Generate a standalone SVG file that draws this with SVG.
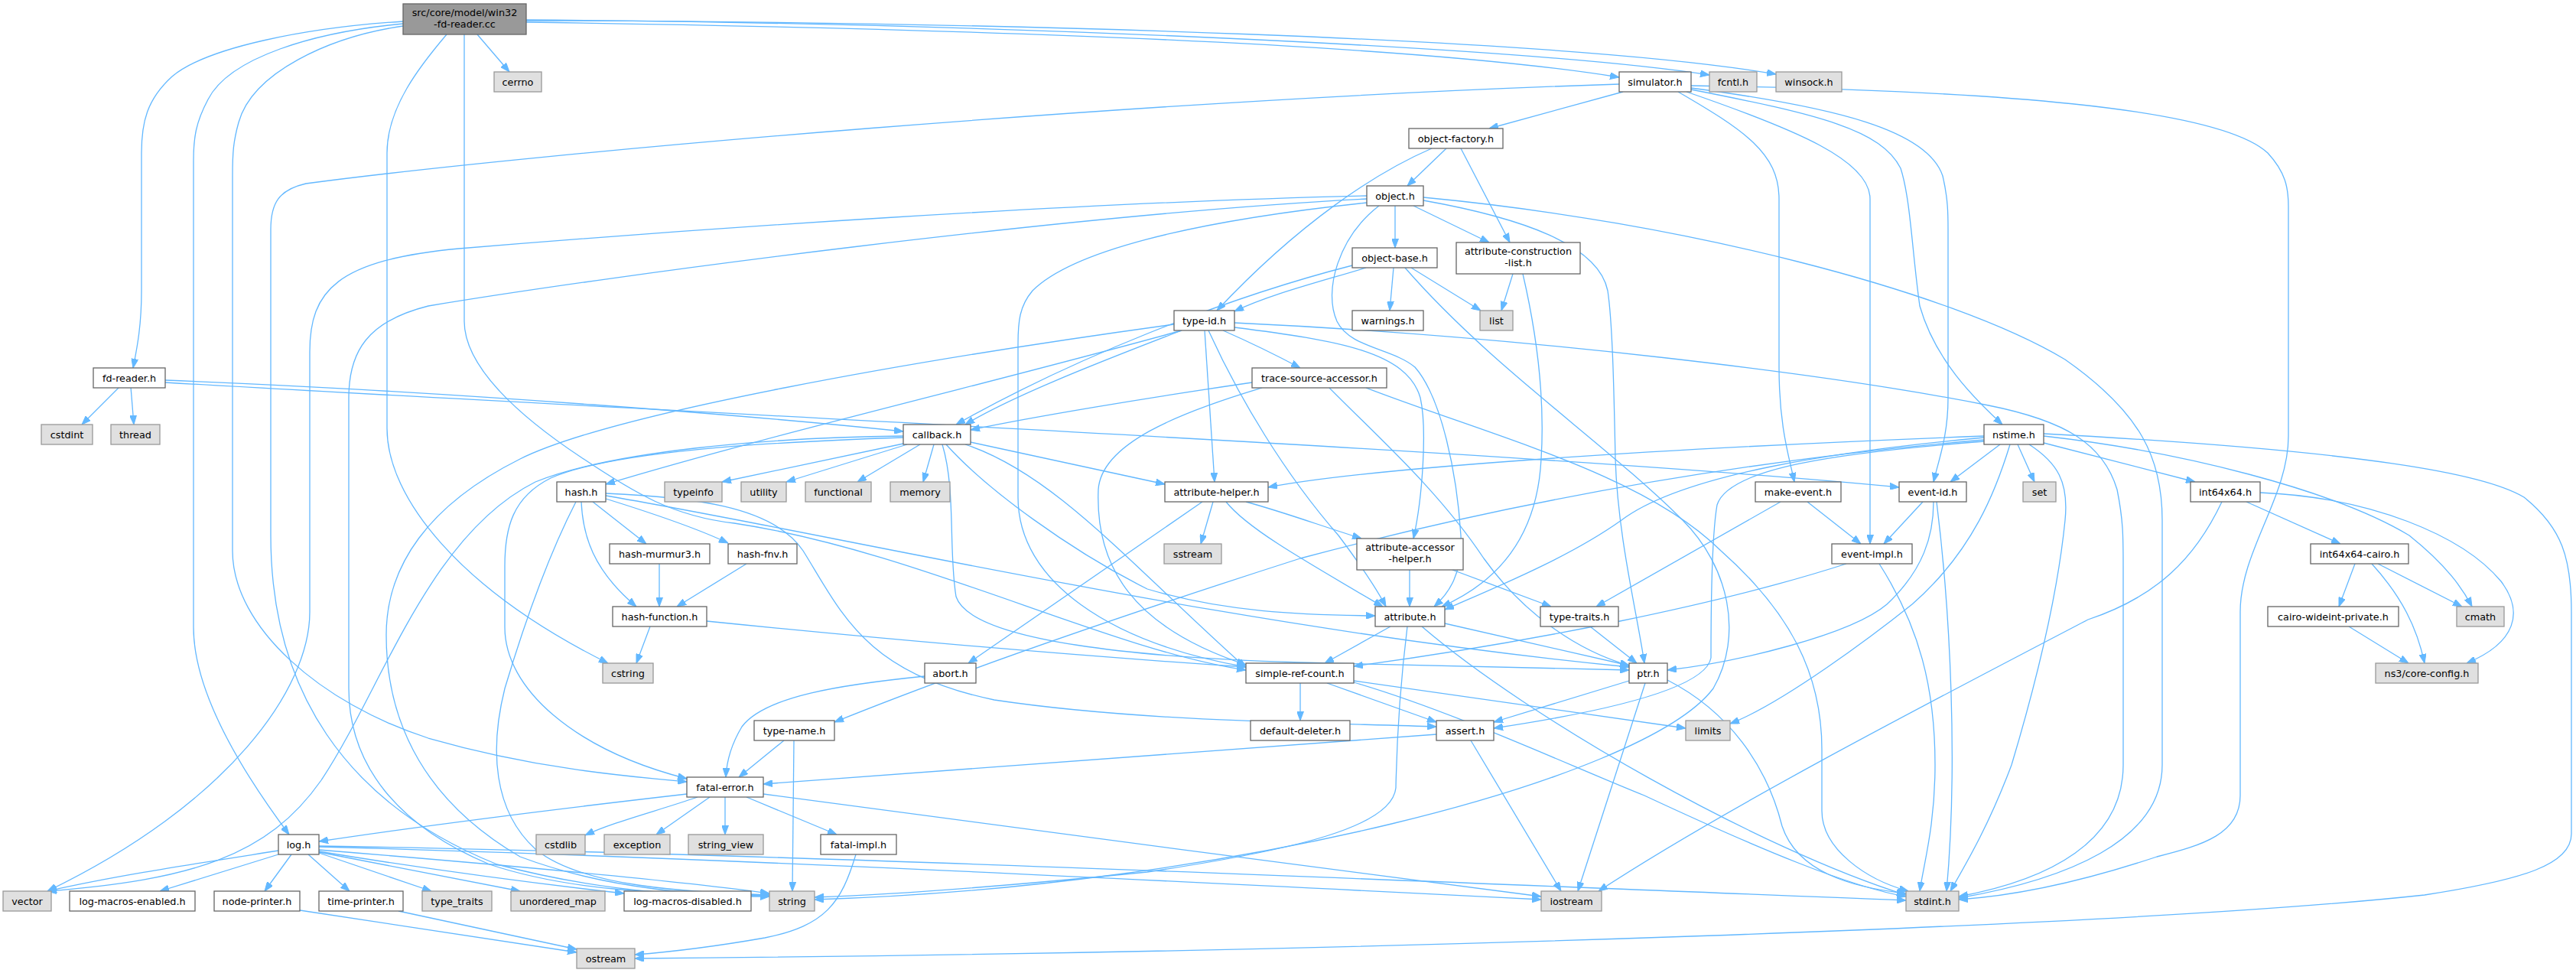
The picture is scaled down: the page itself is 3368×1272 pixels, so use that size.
<svg xmlns="http://www.w3.org/2000/svg" width="3368" height="1272" viewBox="0 0 3368 1272">
<defs>
<style>
.n rect{fill:#ffffff;stroke:#666666;stroke-width:1.3}
.x rect{fill:#e0e0e0;stroke:#999999;stroke-width:1.3}
.t rect{fill:#999999;stroke:#666666;stroke-width:1.3}
text{font-family:"DejaVu Sans","Liberation Sans",sans-serif;font-size:12.8px;text-anchor:middle;fill:#000000}
#edges path{fill:none;stroke:#63b8ff;stroke-width:1.3;marker-end:url(#a)}
</style>
<marker id="a" markerWidth="12" markerHeight="9" refX="12" refY="4.5" orient="auto" markerUnits="userSpaceOnUse"><path d="M0,0 L12,4.5 L0,9 z" fill="#63b8ff" stroke="#63b8ff" stroke-width="1"/></marker>
</defs>
<rect width="3368" height="1272" fill="#ffffff"/>
<g id="edges">
<path d="M527,28 C400,36 270,62 225,100 C192,130 185,160 185,200 L185,380 C185,430 178,460 174,481"/>
<path d="M527,31 C410,42 300,75 272,130 C256,160 253,180 253,210 L253,820 C253,900 310,1000 378,1091"/>
<path d="M527,34 C430,48 330,95 312,160 C305,185 304,200 304,230 L304,720 C304,820 420,920 560,965 C700,1005 820,1015 898,1022"/>
<path d="M607,45 L607,420 C607,480 680,545 760,598 C830,645 880,675 960,684 C1200,720 1450,850 1629,876"/>
<path d="M688,29 C1100,35 1800,50 2117,101"/>
<path d="M624,45 L666,94"/>
<path d="M584,45 C550,85 506,140 506,200 L506,560 C506,650 600,770 795,867"/>
<path d="M688,26 C1300,30 2000,62 2235,98"/>
<path d="M688,27 C1300,28 2050,50 2322,97"/>
<path d="M216,497 C600,512 1000,545 1181,564"/>
<path d="M216,500 C900,540 2000,590 2483,637"/>
<path d="M156,506 L107,555"/>
<path d="M171,506 L175,555"/>
<path d="M2122,120 L1947,168"/>
<path d="M2117,110 C1500,130 700,200 400,240 C365,248 354,265 354,300 L354,700 C354,900 450,1050 650,1130 C800,1170 930,1172 1006,1172"/>
<path d="M2194,120 C2280,170 2326,200 2326,260 L2326,480 C2326,560 2340,600 2346,630"/>
<path d="M2205,120 C2350,170 2445,210 2445,260 L2445,711"/>
<path d="M2211,115 C2400,140 2520,170 2540,230 C2547,260 2547,280 2547,300 L2547,520 C2547,570 2535,600 2528,630"/>
<path d="M2211,117 C2380,150 2460,170 2485,220 C2498,260 2500,330 2510,400 C2530,470 2580,520 2618,555"/>
<path d="M2211,112 C2600,118 2900,140 2965,200 C2988,225 2992,245 2992,270 L2992,570 C2992,650 2929,720 2929,800 L2929,1040 C2929,1090 2880,1105 2820,1120 C2700,1160 2620,1172 2561,1176"/>
<path d="M1891,194 L1840,243"/>
<path d="M1910,194 L1974,317"/>
<path d="M1872,194 C1800,225 1700,290 1591,406"/>
<path d="M1824,269 L1824,324"/>
<path d="M1848,269 L1947,317"/>
<path d="M1787,256 C1400,265 900,300 600,325 C440,340 405,380 405,460 L405,800 C405,900 300,1050 62,1165"/>
<path d="M1787,260 C1400,280 800,360 560,400 C480,420 456,460 456,520 L456,900 C456,1000 520,1080 640,1130 C760,1170 900,1168 1006,1170"/>
<path d="M1787,265 C1550,290 1400,330 1350,380 C1333,400 1331,420 1331,450 L1331,650 C1331,760 1450,840 1629,872"/>
<path d="M1861,262 C1990,285 2090,320 2102,380 C2108,420 2110,500 2112,600 C2115,700 2140,800 2150,867"/>
<path d="M1861,258 C2200,290 2550,380 2700,470 C2800,540 2827,600 2827,680 L2827,1000 C2827,1100 2700,1150 2561,1174"/>
<path d="M1803,269 C1750,310 1730,380 1748,420 C1765,455 1820,455 1850,480 C1885,520 1905,620 1910,700 C1912,750 1895,775 1875,793"/>
<path d="M1822,350 L1817,406"/>
<path d="M1845,350 L1936,406"/>
<path d="M1768,347 C1600,390 1400,470 1250,555"/>
<path d="M1786,350 C1720,370 1660,385 1614,407"/>
<path d="M1837,350 C1950,480 2100,580 2200,680 C2260,740 2280,830 2240,900 C2150,1020 1600,1160 1065,1176"/>
<path d="M1978,358 L1963,406"/>
<path d="M1991,358 C2010,440 2020,520 2015,600 C2010,700 1960,760 1885,793"/>
<path d="M1545,432 C1300,500 1000,570 792,633"/>
<path d="M1535,424 C1200,470 800,540 680,600 C560,660 505,740 505,830 C505,950 560,1050 680,1120 C800,1165 920,1170 1006,1171"/>
<path d="M1545,432 C1420,480 1320,520 1262,555"/>
<path d="M1575,432 L1588,630"/>
<path d="M1580,432 C1620,520 1680,620 1750,700 C1780,740 1800,770 1812,793"/>
<path d="M1599,432 C1640,450 1670,465 1700,481"/>
<path d="M1614,422 C2000,440 2400,490 2600,530 C2700,550 2750,580 2768,640 C2776,680 2776,700 2776,740 L2776,1000 C2776,1100 2680,1150 2561,1172"/>
<path d="M1614,428 C1750,445 1840,460 1857,520 C1866,560 1860,650 1848,704"/>
<path d="M1637,500 C1500,520 1350,545 1269,562"/>
<path d="M1650,507 C1540,540 1440,580 1436,640 C1432,740 1480,820 1629,869"/>
<path d="M1738,507 C1800,570 1880,640 1940,730 C1990,800 2060,850 2130,870"/>
<path d="M1786,507 C1950,570 2150,620 2250,720 C2340,800 2382,880 2382,980 L2382,1060 C2382,1110 2440,1150 2495,1165"/>
<path d="M1181,580 L944,630"/>
<path d="M1186,581 L1028,630"/>
<path d="M1203,581 L1121,630"/>
<path d="M1221,581 L1207,630"/>
<path d="M1269,578 L1523,633"/>
<path d="M1181,570 C1000,572 800,590 700,630 C560,700 500,900 420,1020 C350,1120 250,1150 62,1165"/>
<path d="M1181,572 C1000,578 800,590 720,625 C670,650 660,690 660,740 L660,820 C660,900 750,980 898,1018"/>
<path d="M1237,581 C1290,640 1400,720 1500,770 C1600,800 1700,804 1798,805"/>
<path d="M1232,581 C1250,640 1240,720 1250,780 C1270,840 1500,860 1700,866 C1900,872 2050,874 2130,876"/>
<path d="M1262,581 C1380,620 1480,740 1629,873"/>
<path d="M1572,656 L1266,867"/>
<path d="M1586,656 L1570,711"/>
<path d="M1603,656 C1630,690 1700,730 1808,793"/>
<path d="M1629,656 C1680,670 1720,685 1780,704"/>
<path d="M1843,745 L1843,793"/>
<path d="M1899,745 L2028,793"/>
<path d="M1818,819 L1732,867"/>
<path d="M1889,815 L2130,870"/>
<path d="M1840,819 C1830,900 1826,980 1825,1030 C1820,1080 1700,1110 1500,1140 C1300,1160 1150,1170 1065,1173"/>
<path d="M1859,819 C2000,940 2300,1110 2492,1170"/>
<path d="M2079,819 L2140,867"/>
<path d="M2363,656 L2433,711"/>
<path d="M2328,656 L2087,793"/>
<path d="M2514,656 L2463,711"/>
<path d="M2528,656 C2528,700 2515,745 2467,790 C2420,830 2270,866 2180,876"/>
<path d="M2532,656 C2550,800 2560,1000 2545,1165"/>
<path d="M2414,737 C2250,790 2000,840 1770,871"/>
<path d="M2457,737 C2510,820 2530,900 2530,1000 C2530,1080 2515,1130 2510,1165"/>
<path d="M2130,890 L1953,944"/>
<path d="M2151,893 L2063,1165"/>
<path d="M2180,889 C2260,930 2310,1000 2330,1080 C2350,1140 2420,1160 2492,1168"/>
<path d="M1700,893 L1700,942"/>
<path d="M1735,893 L1878,944"/>
<path d="M1770,890 L2204,952"/>
<path d="M1770,892 C1900,930 2050,1000 2150,1040 C2300,1110 2420,1160 2492,1172"/>
<path d="M1878,960 C1600,980 1300,1000 998,1025"/>
<path d="M1923,968 L2041,1165"/>
<path d="M1209,884 C1100,895 1000,910 970,950 C955,975 950,995 949,1016"/>
<path d="M1025,968 L966,1016"/>
<path d="M1038,968 L1036,1165"/>
<path d="M2594,575 C2300,600 2000,650 1700,730 C1450,810 1250,880 1091,944"/>
<path d="M2594,570 C2200,585 1800,610 1658,637"/>
<path d="M2594,572 C2400,590 2200,620 2120,680 C2050,730 1950,770 1889,797"/>
<path d="M2594,577 C2400,592 2260,612 2245,660 C2238,700 2237,800 2237,860 C2230,900 2100,930 1953,952"/>
<path d="M2615,581 L2550,630"/>
<path d="M2638,581 L2660,630"/>
<path d="M2672,579 L2870,630"/>
<path d="M2672,570 C2850,590 3050,640 3150,700 C3200,740 3220,770 3232,793"/>
<path d="M2672,567 C3100,590 3250,620 3300,650 C3350,690 3362,730 3362,800 L3362,1090 C3362,1130 3300,1150 3170,1170 C2800,1210 1800,1245 830,1253"/>
<path d="M2628,581 C2610,640 2580,720 2500,790 C2450,830 2330,920 2262,946"/>
<path d="M2653,581 C2690,605 2705,630 2700,680 C2690,780 2660,900 2630,1000 C2600,1080 2570,1130 2550,1165"/>
<path d="M2937,656 L3060,711"/>
<path d="M2955,644 C3100,650 3220,700 3270,760 C3300,800 3290,840 3225,867"/>
<path d="M2905,656 C2870,730 2820,780 2730,810 C2500,930 2250,1060 2090,1165"/>
<path d="M3079,737 L3058,793"/>
<path d="M3109,737 L3219,793"/>
<path d="M3101,737 C3140,780 3160,820 3170,867"/>
<path d="M3071,819 L3149,867"/>
<path d="M775,656 L845,711"/>
<path d="M760,656 C762,700 775,745 832,793"/>
<path d="M753,656 C720,720 690,800 660,900 C640,980 645,1060 700,1110 C760,1160 900,1166 1006,1170"/>
<path d="M792,652 C850,670 910,690 952,710"/>
<path d="M792,648 C1100,700 1600,820 2130,872"/>
<path d="M792,645 C900,650 1010,660 1050,720 C1100,800 1130,880 1300,915 C1500,945 1750,945 1878,950"/>
<path d="M862,737 L862,793"/>
<path d="M976,737 L885,793"/>
<path d="M850,819 L832,867"/>
<path d="M924,812 C1200,840 1450,860 1629,872"/>
<path d="M898,1038 C750,1055 550,1080 417,1100"/>
<path d="M912,1042 C860,1060 800,1075 765,1092"/>
<path d="M928,1042 L858,1091"/>
<path d="M948,1042 L948,1091"/>
<path d="M976,1042 L1094,1091"/>
<path d="M998,1038 C1300,1080 1700,1130 2015,1172"/>
<path d="M1119,1117 C1100,1180 1080,1210 1000,1226 C920,1240 870,1245 830,1248"/>
<path d="M364,1112 C250,1130 150,1145 62,1165"/>
<path d="M364,1117 L209,1165"/>
<path d="M381,1117 L346,1165"/>
<path d="M403,1117 L457,1165"/>
<path d="M417,1115 L564,1165"/>
<path d="M417,1114 L680,1165"/>
<path d="M417,1113 C550,1135 700,1155 816,1168"/>
<path d="M417,1111 C650,1130 880,1150 1006,1168"/>
<path d="M417,1107 C900,1120 1500,1150 2015,1176"/>
<path d="M417,1106 C1000,1115 1800,1150 2492,1177"/>
<path d="M392,1190 L754,1245"/>
<path d="M521,1191 L754,1241"/>
</g>
<g id="n-win32" class="t"><rect x="527" y="5" width="161" height="40"/><text x="607.5" y="21">src/core/model/win32</text><text x="607.5" y="36">-fd-reader.cc</text></g>
<g id="n-cerrno" class="x"><rect x="646" y="94" width="62" height="26"/><text x="677" y="111.5">cerrno</text></g>
<g id="n-simulator" class="n"><rect x="2117" y="94" width="94" height="26"/><text x="2164" y="111.5">simulator.h</text></g>
<g id="n-fcntl" class="x"><rect x="2235" y="94" width="62" height="26"/><text x="2266" y="111.5">fcntl.h</text></g>
<g id="n-winsock" class="x"><rect x="2322" y="94" width="86" height="26"/><text x="2365" y="111.5">winsock.h</text></g>
<g id="n-object-factory" class="n"><rect x="1842" y="168" width="123" height="26"/><text x="1903.5" y="185.5">object-factory.h</text></g>
<g id="n-object" class="n"><rect x="1787" y="243" width="74" height="26"/><text x="1824" y="260.5">object.h</text></g>
<g id="n-object-base" class="n"><rect x="1768" y="324" width="111" height="26"/><text x="1823.5" y="341.5">object-base.h</text></g>
<g id="n-attr-constr" class="n"><rect x="1904" y="317" width="162" height="41"/><text x="1985" y="333">attribute-construction</text><text x="1985" y="348">-list.h</text></g>
<g id="n-warnings" class="n"><rect x="1768" y="406" width="93" height="26"/><text x="1814.5" y="423.5">warnings.h</text></g>
<g id="n-list" class="x"><rect x="1935" y="406" width="43" height="26"/><text x="1956.5" y="423.5">list</text></g>
<g id="n-type-id" class="n"><rect x="1535" y="406" width="79" height="26"/><text x="1574.5" y="423.5">type-id.h</text></g>
<g id="n-fd-reader" class="n"><rect x="122" y="481" width="94" height="26"/><text x="169" y="498.5">fd-reader.h</text></g>
<g id="n-trace-source" class="n"><rect x="1637" y="481" width="176" height="26"/><text x="1725" y="498.5">trace-source-accessor.h</text></g>
<g id="n-cstdint" class="x"><rect x="54" y="555" width="67" height="26"/><text x="87.5" y="572.5">cstdint</text></g>
<g id="n-thread" class="x"><rect x="145" y="555" width="64" height="26"/><text x="177" y="572.5">thread</text></g>
<g id="n-callback" class="n"><rect x="1181" y="555" width="88" height="26"/><text x="1225" y="572.5">callback.h</text></g>
<g id="n-nstime" class="n"><rect x="2594" y="555" width="78" height="26"/><text x="2633" y="572.5">nstime.h</text></g>
<g id="n-hash" class="n"><rect x="728" y="630" width="64" height="26"/><text x="760" y="647.5">hash.h</text></g>
<g id="n-typeinfo" class="x"><rect x="869" y="630" width="75" height="26"/><text x="906.5" y="647.5">typeinfo</text></g>
<g id="n-utility" class="x"><rect x="969" y="630" width="59" height="26"/><text x="998.5" y="647.5">utility</text></g>
<g id="n-functional" class="x"><rect x="1053" y="630" width="86" height="26"/><text x="1096" y="647.5">functional</text></g>
<g id="n-memory" class="x"><rect x="1164" y="630" width="78" height="26"/><text x="1203" y="647.5">memory</text></g>
<g id="n-attribute-helper" class="n"><rect x="1523" y="630" width="135" height="26"/><text x="1590.5" y="647.5">attribute-helper.h</text></g>
<g id="n-make-event" class="n"><rect x="2295" y="630" width="112" height="26"/><text x="2351" y="647.5">make-event.h</text></g>
<g id="n-event-id" class="n"><rect x="2483" y="630" width="88" height="26"/><text x="2527" y="647.5">event-id.h</text></g>
<g id="n-set" class="x"><rect x="2645" y="630" width="43" height="26"/><text x="2666.5" y="647.5">set</text></g>
<g id="n-int64x64" class="n"><rect x="2864" y="630" width="91" height="26"/><text x="2909.5" y="647.5">int64x64.h</text></g>
<g id="n-hash-murmur3" class="n"><rect x="797" y="711" width="131" height="26"/><text x="862.5" y="728.5">hash-murmur3.h</text></g>
<g id="n-hash-fnv" class="n"><rect x="952" y="711" width="90" height="26"/><text x="997" y="728.5">hash-fnv.h</text></g>
<g id="n-sstream" class="x"><rect x="1522" y="711" width="75" height="26"/><text x="1559.5" y="728.5">sstream</text></g>
<g id="n-attr-accessor" class="n"><rect x="1774" y="704" width="139" height="41"/><text x="1843.5" y="720">attribute-accessor</text><text x="1843.5" y="735">-helper.h</text></g>
<g id="n-event-impl" class="n"><rect x="2395" y="711" width="105" height="26"/><text x="2447.5" y="728.5">event-impl.h</text></g>
<g id="n-int64x64-cairo" class="n"><rect x="3021" y="711" width="128" height="26"/><text x="3085" y="728.5">int64x64-cairo.h</text></g>
<g id="n-hash-function" class="n"><rect x="801" y="793" width="123" height="26"/><text x="862.5" y="810.5">hash-function.h</text></g>
<g id="n-attribute" class="n"><rect x="1798" y="793" width="91" height="26"/><text x="1843.5" y="810.5">attribute.h</text></g>
<g id="n-type-traits" class="n"><rect x="2014" y="793" width="102" height="26"/><text x="2065" y="810.5">type-traits.h</text></g>
<g id="n-cairo-wideint" class="n"><rect x="2965" y="793" width="171" height="26"/><text x="3050.5" y="810.5">cairo-wideint-private.h</text></g>
<g id="n-cmath" class="x"><rect x="3212" y="793" width="62" height="26"/><text x="3243" y="810.5">cmath</text></g>
<g id="n-cstring" class="x"><rect x="788" y="867" width="66" height="26"/><text x="821" y="884.5">cstring</text></g>
<g id="n-abort" class="n"><rect x="1209" y="867" width="67" height="26"/><text x="1242.5" y="884.5">abort.h</text></g>
<g id="n-simple-ref-count" class="n"><rect x="1629" y="867" width="141" height="26"/><text x="1699.5" y="884.5">simple-ref-count.h</text></g>
<g id="n-ptr" class="n"><rect x="2130" y="867" width="50" height="26"/><text x="2155" y="884.5">ptr.h</text></g>
<g id="n-core-config" class="x"><rect x="3106" y="867" width="134" height="26"/><text x="3173" y="884.5">ns3/core-config.h</text></g>
<g id="n-type-name" class="n"><rect x="986" y="942" width="105" height="26"/><text x="1038.5" y="959.5">type-name.h</text></g>
<g id="n-default-deleter" class="n"><rect x="1635" y="942" width="130" height="26"/><text x="1700" y="959.5">default-deleter.h</text></g>
<g id="n-assert" class="n"><rect x="1878" y="942" width="75" height="26"/><text x="1915.5" y="959.5">assert.h</text></g>
<g id="n-limits" class="x"><rect x="2204" y="942" width="58" height="26"/><text x="2233" y="959.5">limits</text></g>
<g id="n-fatal-error" class="n"><rect x="898" y="1016" width="100" height="26"/><text x="948" y="1033.5">fatal-error.h</text></g>
<g id="n-log" class="n"><rect x="364" y="1091" width="53" height="26"/><text x="390.5" y="1108.5">log.h</text></g>
<g id="n-cstdlib" class="x"><rect x="701" y="1091" width="64" height="26"/><text x="733" y="1108.5">cstdlib</text></g>
<g id="n-exception" class="x"><rect x="790" y="1091" width="86" height="26"/><text x="833" y="1108.5">exception</text></g>
<g id="n-string-view" class="x"><rect x="900" y="1091" width="98" height="26"/><text x="949" y="1108.5">string_view</text></g>
<g id="n-fatal-impl" class="n"><rect x="1073" y="1091" width="99" height="26"/><text x="1122.5" y="1108.5">fatal-impl.h</text></g>
<g id="n-vector" class="x"><rect x="4" y="1165" width="63" height="26"/><text x="35.5" y="1182.5">vector</text></g>
<g id="n-log-macros-enabled" class="n"><rect x="91" y="1165" width="164" height="26"/><text x="173" y="1182.5">log-macros-enabled.h</text></g>
<g id="n-node-printer" class="n"><rect x="280" y="1165" width="112" height="26"/><text x="336" y="1182.5">node-printer.h</text></g>
<g id="n-time-printer" class="n"><rect x="417" y="1165" width="110" height="26"/><text x="472" y="1182.5">time-printer.h</text></g>
<g id="n-type-traits-std" class="x"><rect x="552" y="1165" width="91" height="26"/><text x="597.5" y="1182.5">type_traits</text></g>
<g id="n-unordered-map" class="x"><rect x="668" y="1165" width="123" height="26"/><text x="729.5" y="1182.5">unordered_map</text></g>
<g id="n-log-macros-disabled" class="n"><rect x="816" y="1165" width="166" height="26"/><text x="899" y="1182.5">log-macros-disabled.h</text></g>
<g id="n-string" class="x"><rect x="1006" y="1165" width="59" height="26"/><text x="1035.5" y="1182.5">string</text></g>
<g id="n-iostream" class="x"><rect x="2015" y="1165" width="79" height="26"/><text x="2054.5" y="1182.5">iostream</text></g>
<g id="n-stdint" class="x"><rect x="2492" y="1165" width="69" height="26"/><text x="2526.5" y="1182.5">stdint.h</text></g>
<g id="n-ostream" class="x"><rect x="754" y="1240" width="76" height="26"/><text x="792" y="1257.5">ostream</text></g>
</svg>
